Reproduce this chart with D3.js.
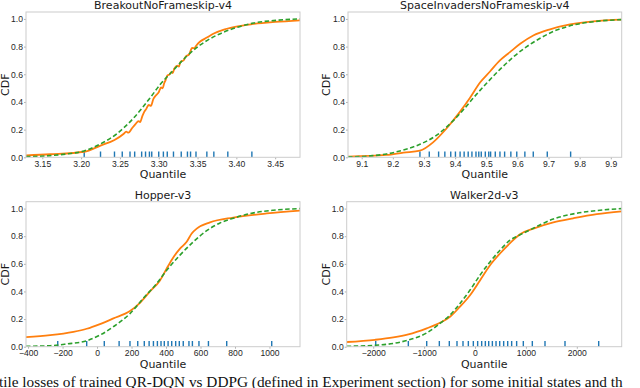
<!DOCTYPE html>
<html>
<head>
<meta charset="utf-8">
<script src="https://cdn.jsdelivr.net/npm/d3@7"></script>
<style>
  body { margin: 0; background: #fff; }
  svg { display: block; font-family: "DejaVu Sans", sans-serif; }
</style>
</head>
<body>
<div id="chart-area"></div>
<script>
// rug positions (samples) per environment
const breakoutRug = [3.204, 3.225, 3.243, 3.253, 3.263, 3.269, 3.278, 3.283, 3.288, 3.291, 3.300, 3.306, 3.311, 3.319, 3.329, 3.337, 3.341, 3.348, 3.362, 3.371, 3.389, 3.420]
const spaceRug = [9.287, 9.317, 9.347, 9.367, 9.386, 9.401, 9.416, 9.429, 9.442, 9.454, 9.467, 9.476, 9.484, 9.497, 9.508, 9.514, 9.529, 9.544, 9.559, 9.579, 9.598, 9.624, 9.651, 9.696, 9.771]
const hopperRug = [-228, -60, 42, 128, 191, 236, 274, 302, 327, 350, 371, 390, 412, 433, 456, 477, 500, 533, 553, 591, 646, 752, 1013]
const walkerRug = [-1951, -1310, -949, -701, -505, -354, -236, -131, -33, 52, 131, 203, 269, 341, 413, 485, 563, 642, 720, 818, 949, 1126, 1375, 1768, 2430]

// empirical CDF (orange) and fitted gaussian CDF (green dashed), [quantile, cdf]
const breakoutEmp = [[3.129, 0.014], [3.160, 0.022], [3.204, 0.040], [3.225, 0.085], [3.243, 0.125], [3.255, 0.170], [3.258, 0.185], [3.261, 0.178], [3.265, 0.205], [3.270, 0.240], [3.274, 0.262], [3.276, 0.255], [3.279, 0.300], [3.281, 0.325], [3.284, 0.350], [3.287, 0.378], [3.290, 0.372], [3.293, 0.420], [3.296, 0.445], [3.300, 0.470], [3.303, 0.505], [3.305, 0.498], [3.307, 0.535], [3.309, 0.560], [3.311, 0.590], [3.314, 0.600], [3.316, 0.615], [3.318, 0.608], [3.320, 0.640], [3.324, 0.662], [3.326, 0.655], [3.328, 0.690], [3.332, 0.700], [3.335, 0.730], [3.339, 0.742], [3.343, 0.790], [3.346, 0.788], [3.348, 0.805], [3.353, 0.835], [3.362, 0.865], [3.371, 0.895], [3.385, 0.925], [3.400, 0.945], [3.420, 0.962], [3.450, 0.978], [3.482, 0.990]]
const breakoutFit = [[3.129, 0.005], [3.160, 0.012], [3.181, 0.024], [3.204, 0.046], [3.224, 0.094], [3.246, 0.170], [3.267, 0.280], [3.289, 0.430], [3.301, 0.520], [3.319, 0.630], [3.336, 0.730], [3.353, 0.810], [3.374, 0.880], [3.396, 0.930], [3.422, 0.970], [3.452, 0.990], [3.482, 1.0]]

const spaceEmp = [[9.056, 0.005], [9.180, 0.017], [9.234, 0.034], [9.287, 0.048], [9.330, 0.110], [9.373, 0.210], [9.416, 0.330], [9.448, 0.430], [9.480, 0.540], [9.512, 0.620], [9.544, 0.700], [9.576, 0.760], [9.609, 0.820], [9.651, 0.880], [9.705, 0.925], [9.769, 0.960], [9.844, 0.983], [9.935, 0.995]]
const spaceFit = [[9.056, 0.003], [9.127, 0.010], [9.180, 0.024], [9.234, 0.053], [9.287, 0.094], [9.341, 0.160], [9.394, 0.265], [9.427, 0.345], [9.459, 0.430], [9.501, 0.535], [9.544, 0.635], [9.587, 0.725], [9.630, 0.800], [9.673, 0.860], [9.716, 0.910], [9.769, 0.950], [9.844, 0.980], [9.935, 0.995]]

const hopperEmp = [[-412, 0.070], [-272, 0.084], [-137, 0.108], [-60, 0.130], [17, 0.164], [95, 0.205], [191, 0.258], [249, 0.318], [307, 0.400], [365, 0.480], [404, 0.566], [442, 0.646], [481, 0.710], [520, 0.760], [549, 0.820], [578, 0.855], [655, 0.900], [790, 0.935], [984, 0.965], [1177, 0.985]]
const hopperFit = [[-412, 0.003], [-272, 0.007], [-175, 0.020], [-60, 0.043], [17, 0.084], [95, 0.145], [191, 0.240], [268, 0.350], [346, 0.458], [404, 0.554], [481, 0.663], [559, 0.760], [636, 0.840], [713, 0.896], [790, 0.930], [887, 0.964], [1022, 0.988], [1177, 1.0]]

const walkerEmp = [[-2521, 0.034], [-1965, 0.050], [-1605, 0.067], [-1310, 0.089], [-949, 0.133], [-688, 0.173], [-491, 0.217], [-295, 0.290], [-98, 0.373], [98, 0.480], [295, 0.590], [491, 0.675], [688, 0.750], [884, 0.815], [1146, 0.855], [1539, 0.900], [1932, 0.930], [2391, 0.960], [2882, 0.980]]
const walkerFit = [[-2521, 0.003], [-1965, 0.010], [-1605, 0.024], [-1310, 0.048], [-949, 0.100], [-688, 0.169], [-491, 0.229], [-295, 0.313], [-98, 0.410], [98, 0.518], [295, 0.614], [491, 0.699], [688, 0.771], [884, 0.810], [1146, 0.858], [1539, 0.925], [1932, 0.962], [2391, 0.986], [2882, 1.0]]

// tick labels
const breakoutTicks = [3.15, 3.20, 3.25, 3.30, 3.35, 3.40, 3.45]
const spaceTicks = [9.1, 9.2, 9.3, 9.4, 9.5, 9.6, 9.7, 9.8, 9.9]
const hopperTicks = [-400, -200, 0, 200, 400, 600, 800, 1000]
const walkerTicks = [-2000, -1000, 0, 1000, 2000]
const cdfTicks = [0, 0.2, 0.4, 0.6, 0.8, 1.0]

const minus = s => s.replace("-", "\u2212")

const panels = [
  {title: "BreakoutNoFrameskip-v4", rug: breakoutRug, emp: breakoutEmp, fit: breakoutFit, ticks: breakoutTicks,
   xdom: [3.129, 3.482], fmt: d3.format(".2f"), box: {l: 26, r: 300, t: 12, b: 157.3}, ylab: 5},
  {title: "SpaceInvadersNoFrameskip-v4", rug: spaceRug, emp: spaceEmp, fit: spaceFit, ticks: spaceTicks,
   xdom: [9.056, 9.935], fmt: d3.format(".1f"), box: {l: 348, r: 621.7, t: 12, b: 157.3}, ylab: 326},
  {title: "Hopper-v3", rug: hopperRug, emp: hopperEmp, fit: hopperFit, ticks: hopperTicks,
   xdom: [-412, 1177], fmt: d => minus(String(d)), box: {l: 26, r: 300, t: 201.7, b: 346.7}, ylab: 5},
  {title: "Walker2d-v3", rug: walkerRug, emp: walkerEmp, fit: walkerFit, ticks: walkerTicks,
   xdom: [-2521, 2882], fmt: d => minus(String(d)), box: {l: 346.7, r: 621.7, t: 201.7, b: 346.7}, ylab: 326}
]

const svg = d3.select("#chart-area")
  .append("svg")
    .attr("width", 640)
    .attr("height", 388)

panels.forEach((p, i) => {
  const w = p.box.r - p.box.l,
        h = p.box.b - p.box.t

  const g = svg.append("g")
    .attr("transform", `translate(${p.box.l},${p.box.t})`)

  const x = d3.scaleLinear().domain(p.xdom).range([0, w])
  const y = d3.scaleLinear().domain([0, 1.05]).range([h, 0])

  g.append("clipPath").attr("id", "clip" + i)
    .append("rect").attr("width", w).attr("height", h)

  // axes
  const xa = g.append("g")
    .attr("transform", `translate(0,${h})`)
    .call(d3.axisBottom(x).tickValues(p.ticks).tickFormat(p.fmt).tickSize(2).tickPadding(1.5))
  const ya = g.append("g")
    .call(d3.axisLeft(y).tickValues(cdfTicks).tickFormat(d3.format(".1f")).tickSize(2).tickPadding(1))
  ;[xa, ya].forEach(a => {
    a.select(".domain").remove()
    a.selectAll("line").attr("stroke", "#b0b0b0")
    a.selectAll("text").attr("fill", "#262626").style("font-size", "8.6px")
  })

  const lines = g.append("g").attr("clip-path", `url(#clip${i})`)

  // rug
  lines.selectAll(".rug")
    .data(p.rug)
    .join("line")
      .attr("x1", d => x(d)).attr("x2", d => x(d))
      .attr("y1", h).attr("y2", h - 5.7)
      .attr("stroke", "#1f77b4")
      .attr("stroke-width", 1.4)

  const line = d3.line().x(d => x(d[0])).y(d => y(d[1])).curve(d3.curveMonotoneX)

  lines.append("path")
    .attr("d", line(p.emp))
    .attr("fill", "none")
    .attr("stroke", "#ff7f0e")
    .attr("stroke-width", 1.8)
    .attr("stroke-linejoin", "round")

  lines.append("path")
    .attr("d", line(p.fit))
    .attr("fill", "none")
    .attr("stroke", "#2ca02c")
    .attr("stroke-width", 1.6)
    .attr("stroke-dasharray", "4.5,2.5")

  // frame
  g.append("rect")
    .attr("width", w).attr("height", h)
    .attr("fill", "none")
    .attr("stroke", "#cccccc")
    .attr("stroke-width", 1)

  g.append("text")
    .attr("x", w / 2).attr("y", -3)
    .attr("text-anchor", "middle")
    .style("font-size", "11px")
    .attr("fill", "#1a1a1a")
    .text(p.title)

  g.append("text")
    .attr("x", w / 2).attr("y", h + 21)
    .attr("text-anchor", "middle")
    .style("font-size", "11px")
    .attr("fill", "#1a1a1a")
    .text("Quantile")

  g.append("text")
    .attr("transform", `translate(${p.ylab - p.box.l},${h / 2}) rotate(-90)`)
    .attr("text-anchor", "middle")
    .attr("dy", "0.35em")
    .style("font-size", "11px")
    .attr("fill", "#1a1a1a")
    .text("CDF")
})

// caption, cut at the bottom of the picture
svg.append("text")
  .attr("x", -1).attr("y", 387)
  .style("font-family", "'Liberation Serif', serif")
  .style("font-size", "15.3px")
  .attr("fill", "#111")
  .text("tile losses of trained QR-DQN vs DDPG (defined in Experiment section) for some initial states and th")
</script>
</body>
</html>
